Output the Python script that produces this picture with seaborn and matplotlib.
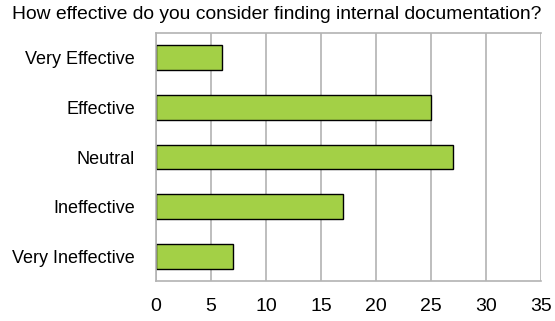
import matplotlib
matplotlib.use("Agg")
import matplotlib.pyplot as plt
import seaborn as sns
import pandas as pd

categories = ["Very Effective", "Effective", "Neutral", "Ineffective", "Very Ineffective"]
values = [6, 25, 27, 17, 7]
xticks = [0, 5, 10, 15, 20, 25, 30, 35]
title = "How effective do you consider finding internal documentation?"

sns.set_style("white")
plt.rcParams['font.family'] = ['Liberation Sans', 'DejaVu Sans']
plt.rcParams['text.color'] = 'black'
plt.rcParams['xtick.labelcolor'] = 'black'
plt.rcParams['ytick.labelcolor'] = 'black'

df = pd.DataFrame({"category": categories, "value": values})

fig = plt.figure(figsize=(5.55, 3.21), dpi=100)
ax = fig.add_axes([0.281, 0.1246, 0.694, 0.7726])
sns.barplot(data=df, x="value", y="category", orient="h", color="#a3d046",
            edgecolor="black", linewidth=1.0, width=0.5, saturation=1, ax=ax)

ax.set_xlim(0, 35)
ax.set_ylim(len(categories) - 0.5, -0.5)
ax.set_xticks(xticks)
ax.set_xticklabels([str(t) for t in xticks], fontsize=14, color="black")
ax.set_xlabel("")
ax.set_ylabel("")
ax.set_yticks(range(len(categories)))
ax.set_yticklabels(categories, fontsize=13, color="black")
ax.tick_params(axis="y", length=0, pad=15)
ax.set_yticks([i + 0.5 for i in range(-1, len(categories))], minor=True)
ax.tick_params(axis="y", which="minor", length=8, color="#b3b3b3", width=1.2)
ax.tick_params(axis="x", length=7, color="#b3b3b3", width=1.2, pad=5)
ax.grid(axis="x", color="#b3b3b3", linewidth=1.2)
ax.set_axisbelow(True)
for s in ["left", "bottom", "top"]:
    ax.spines[s].set_color("#b3b3b3")
    ax.spines[s].set_linewidth(1.2)
ax.spines["right"].set_visible(False)
fig.text(0.499, 0.98, title, ha="center", va="top", fontsize=13.9, color="black")

fig.savefig("out.png", dpi=100)
